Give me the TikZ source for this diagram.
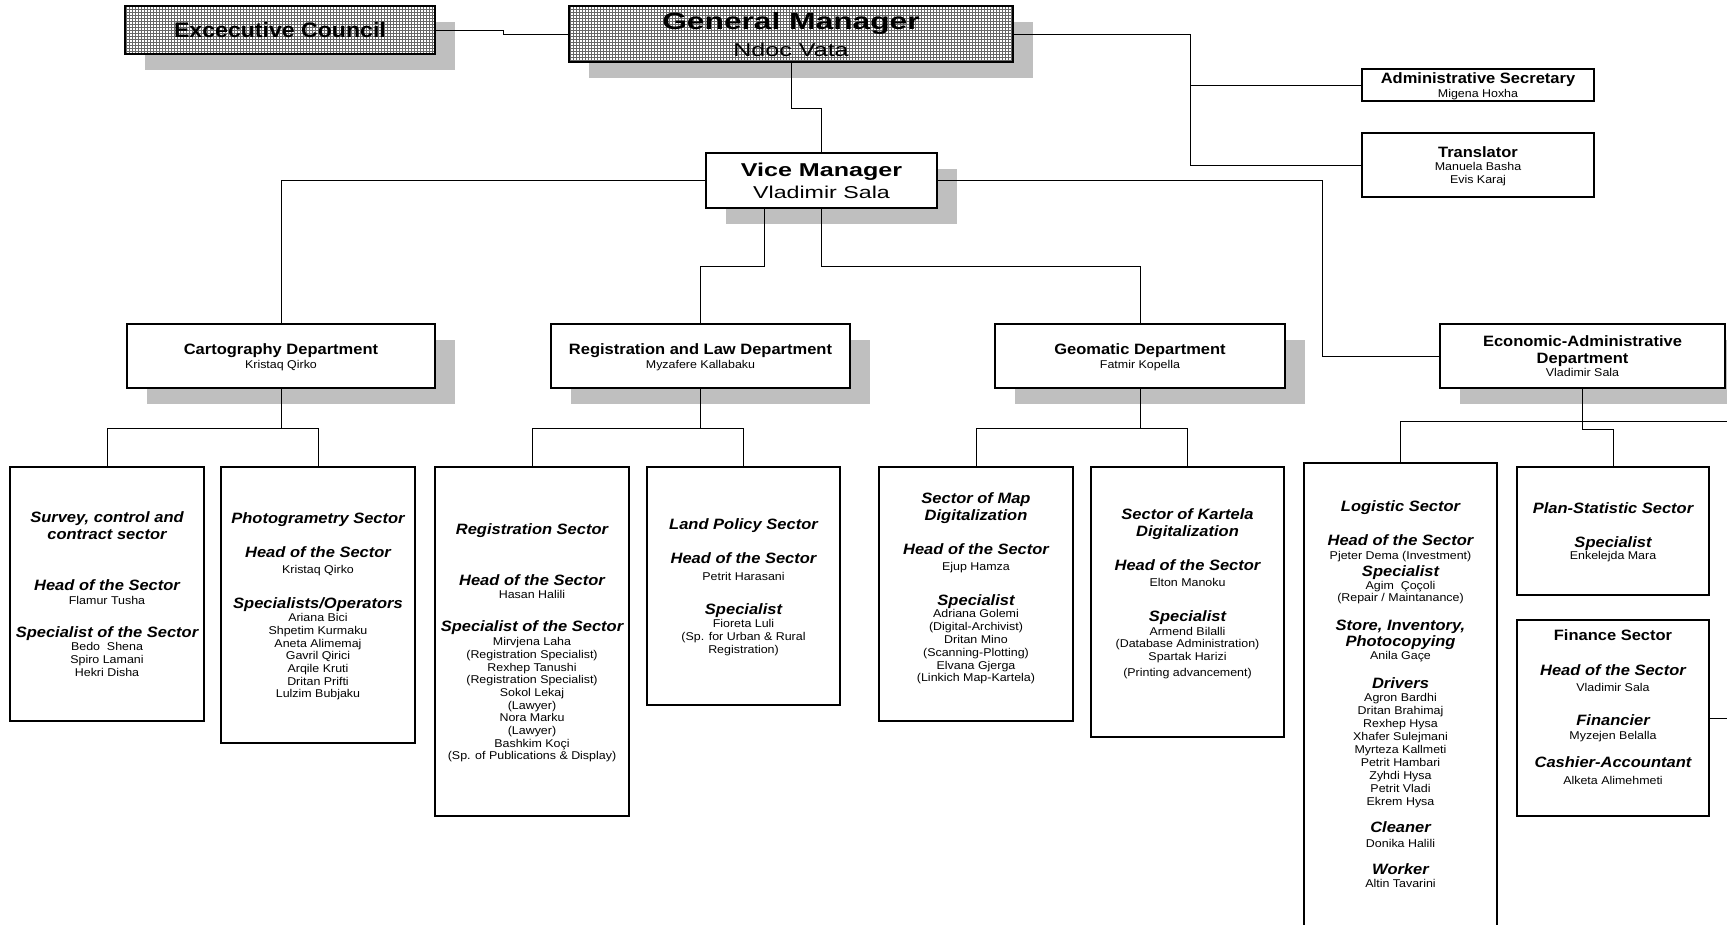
\documentclass[tikz,border=0pt]{standalone}
\usepackage{fontspec}
\setmainfont{Liberation Sans}[FakeStretch=1.1]
\newfontfamily\widesf{Liberation Sans}[FakeStretch=1.35]
\usetikzlibrary{patterns,shadows}

% rows of a box text: first argument is the distance to the baseline above
\newcommand\boxlines[1]{\vbox{\baselineskip=0pt\lineskip=0pt\lineskiplimit=0pt\halign{\hfil##\hfil\cr#1\crcr}}}
\newcommand\txtrow[3]{\raisebox{0pt}[#1pt][0pt]{#2#3}\cr}
\newcommand\hdrow[2]{\txtrow{#1}{\fontsize{15}{15}\selectfont\bfseries\itshape}{#2}}
\newcommand\tirow[2]{\txtrow{#1}{\fontsize{15}{15}\selectfont\bfseries}{#2}}
\newcommand\nmrow[2]{\txtrow{#1}{\fontsize{11.3}{12}\selectfont}{#2}}

\tikzset{
  orgbox/.style={draw, line width=1.3pt, fill=white, inner sep=0pt},
  dropped/.style={drop shadow={shadow xshift=20pt, shadow yshift=-16pt, fill=black!25, opacity=1}},
  dotfill/.style={preaction={fill=white}, pattern=grid, pattern color=black!60},
  link/.style={line width=0.9pt}
}

\begin{document}
\begin{tikzpicture}[x=1pt, y=-1pt] % 1 unit = 1 pixel of the chart, y downwards
\useasboundingbox (0,0) rectangle (1727,924);
\clip (0,0) rectangle (1727,924);

%% management
\node[orgbox, dropped, dotfill, minimum width=310pt, minimum height=48pt] (ec) at (280,30)
  {\boxlines{\txtrow{15}{\fontsize{21}{21}\selectfont\bfseries}{Excecutive Council}}};
\node[orgbox, dropped, dotfill, minimum width=444pt, minimum height=56pt] (gm) at (791,34)
  {\boxlines{\txtrow{17}{\widesf\fontsize{23.5}{24}\selectfont\bfseries}{General Manager}%
   \txtrow{27}{\widesf\fontsize{18.6}{19}\selectfont}{Ndoc Vata}}};
\node[orgbox, dropped, minimum width=231pt, minimum height=55pt] (vm) at (821.5,180.5)
  {\boxlines{\txtrow{13.5}{\widesf\fontsize{18.6}{19}\selectfont\bfseries}{Vice Manager}%
   \txtrow{22.5}{\widesf\fontsize{17.2}{18}\selectfont}{Vladimir Sala}}};
\node[orgbox, minimum width=232pt, minimum height=32pt] (sec) at (1478,85)
  {\boxlines{\tirow{11}{Administrative Secretary}\nmrow{14.1}{Migena Hoxha}}};
\node[orgbox, minimum width=232pt, minimum height=64pt] (trans) at (1478,165)
  {\boxlines{\tirow{11}{Translator}\nmrow{13.1}{Manuela Basha}\nmrow{13.5}{Evis Karaj}}};

%% departments
\node[orgbox, dropped, minimum width=308pt, minimum height=64pt] (cart) at (281,356)
  {\boxlines{\tirow{11}{Cartography Department}\nmrow{13.6}{Kristaq Qirko}}};
\node[orgbox, dropped, minimum width=299pt, minimum height=64pt] (reg) at (700.5,356)
  {\boxlines{\tirow{11}{Registration and Law Department}\nmrow{13.6}{Myzafere Kallabaku}}};
\node[orgbox, dropped, minimum width=290pt, minimum height=64pt] (geo) at (1140,356)
  {\boxlines{\tirow{11}{Geomatic Department}\nmrow{13.6}{Fatmir Kopella}}};
\node[orgbox, dropped, minimum width=285pt, minimum height=64pt] (econ) at (1582.5,356)
  {\boxlines{\tirow{11}{Economic-Administrative}\tirow{17}{Department}\nmrow{12.6}{Vladimir Sala}}};

%% sectors
\node[orgbox, minimum width=194pt, minimum height=254pt] (survey) at (107,594)
  {\boxlines{\hdrow{11}{Survey, control and}\hdrow{17}{contract sector}%
   \hdrow{51}{Head of the Sector}\nmrow{13.6}{Flamur Tusha}%
   \hdrow{33.4}{Specialist of the Sector}\nmrow{12.6}{Bedo\ \ Shena}%
   \nmrow{13}{Spiro Lamani}\nmrow{13}{Hekri Disha}}};
\node[orgbox, minimum width=194pt, minimum height=276pt] (photo) at (318,605)
  {\boxlines{\hdrow{11}{Photogrametry Sector}%
   \hdrow{34}{Head of the Sector}\nmrow{16.6}{Kristaq Qirko}%
   \hdrow{34.4}{Specialists/Operators}\nmrow{13.6}{Ariana Bici}%
   \nmrow{12.7}{Shpetim Kurmaku}\nmrow{12.7}{Aneta Alimemaj}\nmrow{12.7}{Gavril Qirici}%
   \nmrow{12.7}{Arqile Kruti}\nmrow{12.7}{Dritan Prifti}\nmrow{12.7}{Lulzim Bubjaku}}};
\node[orgbox, minimum width=194pt, minimum height=349pt] (regsec) at (532,641.5)
  {\boxlines{\hdrow{11}{Registration Sector}%
   \hdrow{51}{Head of the Sector}\nmrow{13.6}{Hasan Halili}%
   \hdrow{32.4}{Specialist of the Sector}\nmrow{14.6}{Mirvjena Laha}%
   \nmrow{12.67}{(Registration Specialist)}\nmrow{12.67}{Rexhep Tanushi}%
   \nmrow{12.67}{(Registration Specialist)}\nmrow{12.67}{Sokol Lekaj}%
   \nmrow{12.67}{(Lawyer)}\nmrow{12.67}{Nora Marku}\nmrow{12.67}{(Lawyer)}%
   \nmrow{12.67}{Bashkim Koçi}\nmrow{12.67}{(Sp. of Publications \& Display)}}};
\node[orgbox, minimum width=193pt, minimum height=238pt] (land) at (743.5,586)
  {\boxlines{\hdrow{11}{Land Policy Sector}%
   \hdrow{34}{Head of the Sector}\nmrow{16.6}{Petrit Harasani}%
   \hdrow{34.4}{Specialist}\nmrow{12.6}{Fioreta Luli}%
   \nmrow{13}{(Sp. for Urban \& Rural}\nmrow{13}{Registration)}}};
\node[orgbox, minimum width=194pt, minimum height=254pt] (mapdig) at (976,594)
  {\boxlines{\hdrow{11}{Sector of Map}\hdrow{17}{Digitalization}%
   \hdrow{34}{Head of the Sector}\nmrow{16.6}{Ejup Hamza}%
   \hdrow{34.4}{Specialist}\nmrow{12.6}{Adriana Golemi}%
   \nmrow{13}{(Digital-Archivist)}\nmrow{13}{Dritan Mino}\nmrow{13}{(Scanning-Plotting)}%
   \nmrow{13}{Elvana Gjerga}\nmrow{12}{(Linkich Map-Kartela)}\nmrow{14}{}}};
\node[orgbox, minimum width=193pt, minimum height=270pt] (kart) at (1187.5,602)
  {\boxlines{\hdrow{11}{Sector of Kartela}\hdrow{17}{Digitalization}%
   \hdrow{34}{Head of the Sector}\nmrow{16.6}{Elton Manoku}%
   \hdrow{34.4}{Specialist}\nmrow{14.6}{Armend Bilalli}%
   \nmrow{12}{(Database Administration)}\nmrow{13}{Spartak Harizi}%
   \nmrow{16}{(Printing advancement)}\nmrow{19}{}}};
\node[orgbox, minimum width=193pt, minimum height=477pt] (logi) at (1400.5,701.5)
  {\boxlines{\hdrow{11}{Logistic Sector}%
   \hdrow{34}{Head of the Sector}\nmrow{13.6}{Pjeter Dema (Investment)}%
   \hdrow{17.4}{Specialist}\nmrow{12.6}{Agim\ \ Çoçoli}\nmrow{12}{(Repair / Maintanance)}%
   \hdrow{29.4}{Store, Inventory,}\hdrow{16}{Photocopying}\nmrow{12.6}{Anila Gaçe}%
   \hdrow{29.4}{Drivers}\nmrow{12.6}{Agron Bardhi}%
   \nmrow{13}{Dritan Brahimaj}\nmrow{13}{Rexhep Hysa}\nmrow{13}{Xhafer Sulejmani}%
   \nmrow{13}{Myrteza Kallmeti}\nmrow{13}{Petrit Hambari}\nmrow{13}{Zyhdi Hysa}%
   \nmrow{13}{Petrit Vladi}\nmrow{13}{Ekrem Hysa}%
   \hdrow{27.4}{Cleaner}\nmrow{14.6}{Donika Halili}%
   \hdrow{27.4}{Worker}\nmrow{12.6}{Altin Tavarini}\nmrow{15}{}}};
\node[orgbox, minimum width=192pt, minimum height=128pt] (plan) at (1613,531)
  {\boxlines{\hdrow{11}{Plan-Statistic Sector}%
   \hdrow{34}{Specialist}\nmrow{12.6}{Enkelejda Mara}}};
\node[orgbox, minimum width=192pt, minimum height=196pt] (fin) at (1613,718)
  {\boxlines{\tirow{11}{Finance Sector}%
   \hdrow{35}{Head of the Sector}\nmrow{16.6}{Vladimir Sala}%
   \hdrow{33.4}{Financier}\nmrow{14.6}{Myzejen Belalla}%
   \hdrow{27.4}{Cashier-Accountant}\nmrow{17.6}{Alketa Alimehmeti}\nmrow{22}{}}};

%% connectors
% top row
\draw[link] (ec.east) -- ++(68,0) |- (gm.west);
\draw[link] (gm.south) -- ++(0,46) -| (vm.north);
\draw[link] (gm.east) -- ++(177,0) coordinate (gmr) |- (trans.west);
\draw[link] (gmr) |- (sec.west);
% vice manager to the departments
\draw[link] (vm.west) -| (cart.north);
\draw[link] ([xshift=-57.5pt]vm.south) -- ++(0,58) -| (reg.north);
\draw[link] (vm.south) -- ++(0,58) -| (geo.north);
\draw[link] (vm.east) -- ++(385,0) |- (econ.west);
% departments to their sectors
\foreach \d/\a/\b in {cart/survey/photo, reg/regsec/land, geo/mapdig/kart}
  {
  \draw[link] (\d.south) -- ++(0,40) -| (\a.north);
  \draw[link] (\d.south) ++(0,40) -| (\b.north);
  }
\draw[link] (econ.south) -- ++(0,41) -| (plan.north);
% branches running on past the right edge
\coordinate (offlogi) at (1740,421);
\draw[link] (logi.north) |- (offlogi);
\draw[link] (fin.east) -- ++(30,0);

\end{tikzpicture}
\end{document}
